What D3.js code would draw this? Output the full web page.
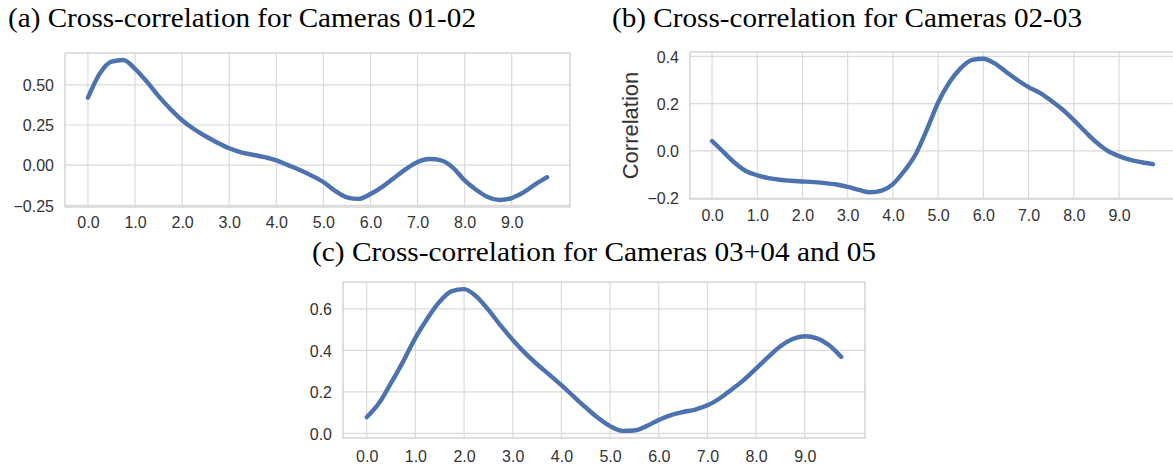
<!DOCTYPE html>
<html>
<head>
<meta charset="utf-8">
<script src="https://cdn.jsdelivr.net/npm/d3@7"></script>
<style>
	body { margin: 0; background: #fff; }
	.tick-label { font-family: "Liberation Sans", Arial, sans-serif; font-size: 16px; fill: #333; }
	.title { font-family: "Liberation Serif", "Times New Roman", serif; font-size: 27px; fill: #000; }
</style>
</head>
<body>
<div id="chart"></div>
<script>
// lag values (shared x for the three plots)
var lags = [0.00, 0.25, 0.50, 0.75, 1.00, 1.25, 1.50, 1.75, 2.00, 2.25,
	2.50, 2.75, 3.00, 3.25, 3.50, 3.75, 4.00, 4.25, 4.50, 4.75,
	5.00, 5.25, 5.50, 5.75, 6.00, 6.25, 6.50, 6.75, 7.00, 7.25,
	7.50, 7.75, 8.00, 8.25, 8.50, 8.75, 9.00, 9.25, 9.50, 9.75];

var corrA = [0.420, 0.570, 0.645, 0.655, 0.600, 0.520, 0.430, 0.350, 0.280, 0.225,
	0.180, 0.140, 0.105, 0.080, 0.065, 0.050, 0.030, 0.000, -0.030, -0.065,
	-0.105, -0.160, -0.200, -0.210, -0.180, -0.135, -0.080, -0.025, 0.020, 0.038,
	0.030, -0.015, -0.095, -0.155, -0.200, -0.217, -0.205, -0.170, -0.120, -0.075];

var corrB = [0.042, -0.004, -0.050, -0.085, -0.103, -0.115, -0.122, -0.126, -0.129, -0.132,
	-0.136, -0.142, -0.152, -0.165, -0.175, -0.168, -0.140, -0.085, -0.015, 0.090,
	0.205, 0.290, 0.350, 0.385, 0.390, 0.370, 0.335, 0.300, 0.270, 0.245,
	0.212, 0.175, 0.130, 0.082, 0.036, 0.000, -0.022, -0.038, -0.048, -0.056];

var corrC = [0.078, 0.145, 0.243, 0.347, 0.460, 0.555, 0.635, 0.685, 0.695, 0.660,
	0.595, 0.520, 0.450, 0.388, 0.333, 0.283, 0.232, 0.178, 0.125, 0.075,
	0.035, 0.012, 0.014, 0.035, 0.065, 0.088, 0.103, 0.115, 0.135, 0.168,
	0.212, 0.258, 0.312, 0.368, 0.420, 0.455, 0.468, 0.458, 0.424, 0.368];

var xTicks = [0, 1, 2, 3, 4, 5, 6, 7, 8, 9];
var yTicksA = [-0.25, 0, 0.25, 0.5];
var yTicksB = [-0.2, 0, 0.2, 0.4];
var yTicksC = [0, 0.2, 0.4, 0.6];

var titles = [
	"(a) Cross-correlation for Cameras 01-02",
	"(b) Cross-correlation for Cameras 02-03",
	"(c) Cross-correlation for Cameras 03+04 and 05"
];

var width = 1173;
var height = 469;

var svg = d3.select('#chart').append('svg')
	.attr('width', width)
	.attr('height', height);

var panels = [
	{values: corrA, yTicks: yTicksA, fmt: '.2f', left: 65, top: 53, w: 505, h: 154, labelDy: 21,
		title: titles[0], tx: 8, ty: 27, tw: 468},
	{values: corrB, yTicks: yTicksB, fmt: '.1f', left: 690, top: 52, w: 485, h: 147, labelDy: 22,
		title: titles[1], tx: 612, ty: 27, tw: 470, ylabel: 'Correlation'},
	{values: corrC, yTicks: yTicksC, fmt: '.1f', left: 343, top: 282, w: 522, h: 156, labelDy: 24,
		title: titles[2], tx: 312, ty: 261, tw: 564}
];

var gridColor = '#dadada';
var lineColor = '#4c72b0';

panels.forEach(function(p){
	var data = lags.map(function(l, i){ return [l, p.values[i]]; });

	// matplotlib style 5% margins
	var xe = d3.extent(lags), ye = d3.extent(p.values);
	var xpad = (xe[1] - xe[0]) * 0.05, ypad = (ye[1] - ye[0]) * 0.05;

	var x = d3.scaleLinear().domain([xe[0] - xpad, xe[1] + xpad]).range([0, p.w]);
	var y = d3.scaleLinear().domain([ye[0] - ypad, ye[1] + ypad]).range([p.h, 0]);

	var g = svg.append('g').attr('transform', 'translate(' + p.left + ',' + p.top + ')');

	// grid
	g.append('g').selectAll('line').data(xTicks).enter().append('line')
		.attr('x1', function(d){ return x(d); })
		.attr('x2', function(d){ return x(d); })
		.attr('y1', 0).attr('y2', p.h)
		.attr('stroke', gridColor).attr('stroke-width', 1.2);
	g.append('g').selectAll('line').data(p.yTicks).enter().append('line')
		.attr('x1', 0).attr('x2', p.w)
		.attr('y1', function(d){ return y(d); })
		.attr('y2', function(d){ return y(d); })
		.attr('stroke', gridColor).attr('stroke-width', 1.2);

	// frame
	g.append('rect')
		.attr('width', p.w).attr('height', p.h)
		.attr('fill', 'none')
		.attr('stroke', '#d2d2d2').attr('stroke-width', 1.4);

	// tick labels via axes without lines
	var xAxis = g.append('g')
		.attr('transform', 'translate(0,' + p.h + ')')
		.call(d3.axisBottom(x).tickValues(xTicks).tickFormat(d3.format('.1f')).tickSize(0).tickPadding(0));
	xAxis.select('.domain').remove();
	xAxis.selectAll('text')
		.attr('class', 'tick-label')
		.attr('dy', null)
		.attr('y', p.labelDy);

	var yAxis = g.append('g')
		.call(d3.axisLeft(y).tickValues(p.yTicks).tickFormat(d3.format(p.fmt)).tickSize(0).tickPadding(11));
	yAxis.select('.domain').remove();
	yAxis.selectAll('text')
		.attr('class', 'tick-label')
		.attr('dy', '0.36em');
	svg.selectAll('.tick text').attr('font-family', null).attr('font-size', null).attr('fill', null);

	// curve
	var line = d3.line()
		.x(function(d){ return x(d[0]); })
		.y(function(d){ return y(d[1]); })
		.curve(d3.curveMonotoneX);

	g.append('path')
		.datum(data)
		.attr('d', line)
		.attr('fill', 'none')
		.attr('stroke', lineColor)
		.attr('stroke-width', 4.4)
		.attr('stroke-linejoin', 'round')
		.attr('stroke-linecap', 'round');

	if (p.ylabel) {
		g.append('text')
			.attr('transform', 'translate(-52,' + (p.h / 2) + ') rotate(-90)')
			.attr('text-anchor', 'middle')
			.attr('font-family', '"Liberation Sans", Arial, sans-serif')
			.attr('font-size', 22)
			.attr('fill', '#333')
			.text(p.ylabel);
	}

	svg.append('text')
		.attr('class', 'title')
		.attr('x', p.tx)
		.attr('y', p.ty)
		.attr('textLength', p.tw)
		.attr('lengthAdjust', 'spacingAndGlyphs')
		.text(p.title);
});
</script>
</body>
</html>
